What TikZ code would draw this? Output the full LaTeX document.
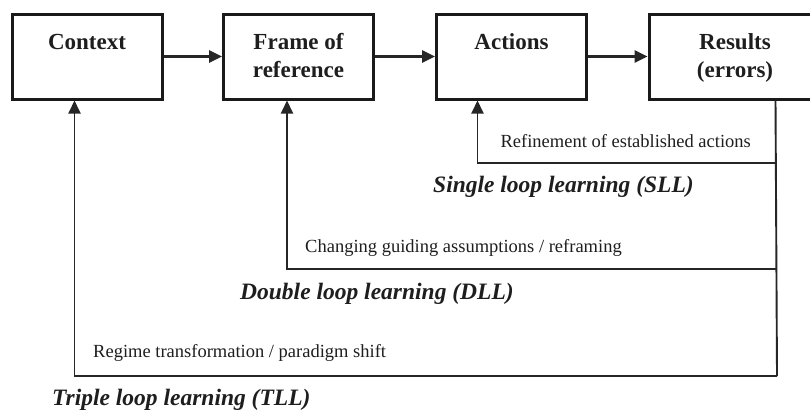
\documentclass[tikz,border=0pt]{standalone}
\usepackage{fontspec}
\setmainfont{Liberation Serif}
\usetikzlibrary{arrows.meta,calc}
\definecolor{boxc}{HTML}{1A1A1A}
\definecolor{linec}{HTML}{262626}
\definecolor{txt}{HTML}{1E1E1E}
\newcommand{\tstrut}{\rule{0pt}{19.6pt}}
\newcommand{\bstrut}{\rule[-5.6pt]{0pt}{10pt}}
\begin{document}
\begin{tikzpicture}[x=1pt,y=-1pt,
  box/.style={draw=boxc, line width=3pt, minimum width=150pt, minimum height=85pt, inner sep=0pt, align=center, font=\fontsize{23}{28}\selectfont\bfseries, text=txt},
  flow/.style={draw=linec, line width=2.6pt, -{Triangle[length=13pt,width=12pt]}},
  loopline/.style={draw=linec, line width=1.9pt},
  feedback/.style={loopline, -{Triangle[length=13pt,width=12pt]}},
  small/.style={font=\fontsize{18.5}{22}\selectfont, text=txt, inner sep=0pt},
  looplabel/.style={font=\fontsize{23.5}{28}\selectfont\bfseries\itshape, text=txt, inner sep=0pt}]
\useasboundingbox (0,0) rectangle (810,410);
\node[box] (ctx) at (87,56.5) {\tstrut Context\\\bstrut};
\node[box] (frm) at (298.5,56.5) {\tstrut Frame of\\reference\bstrut};
\node[box] (act) at (511.5,56.5) {\tstrut Actions\\\bstrut};
\node[box, minimum width=172pt] (res) at (735,56.5) {\tstrut Results\\(errors)\bstrut};
\draw[flow] (ctx) -- (frm);
\draw[flow] (frm) -- (act);
\draw[flow] (act) -- (res);
\path (res.south west) ++(128,0) coordinate (r0);
\coordinate (r1) at (777,163);
\coordinate (r2) at (777,269);
\coordinate (r3) at (777,376);
\draw[loopline] (r0) -- (r3);
\draw[feedback] (r1) -| ($(act.south west)+(42.5,0)$);
\draw[feedback] (r2) -| ($(frm.south west)+(65,0)$);
\draw[feedback] (r3) -| ($(ctx.south west)+(64,0)$);
\node[small, anchor=east] (t1) at (751,141) {Refinement of established actions};
\node[looplabel, anchor=west] (l1) at (433,187) {Single loop learning (SLL)};
\node[small, anchor=west] (t2) at (305,248) {Changing guiding assumptions / reframing};
\node[looplabel, anchor=west] (l2) at (240,294) {Double loop learning (DLL)};
\node[small, anchor=west] (t3) at (93,353) {Regime transformation / paradigm shift};
\node[looplabel, anchor=west] (l3) at (52,400) {Triple loop learning (TLL)};
\end{tikzpicture}
\end{document}
